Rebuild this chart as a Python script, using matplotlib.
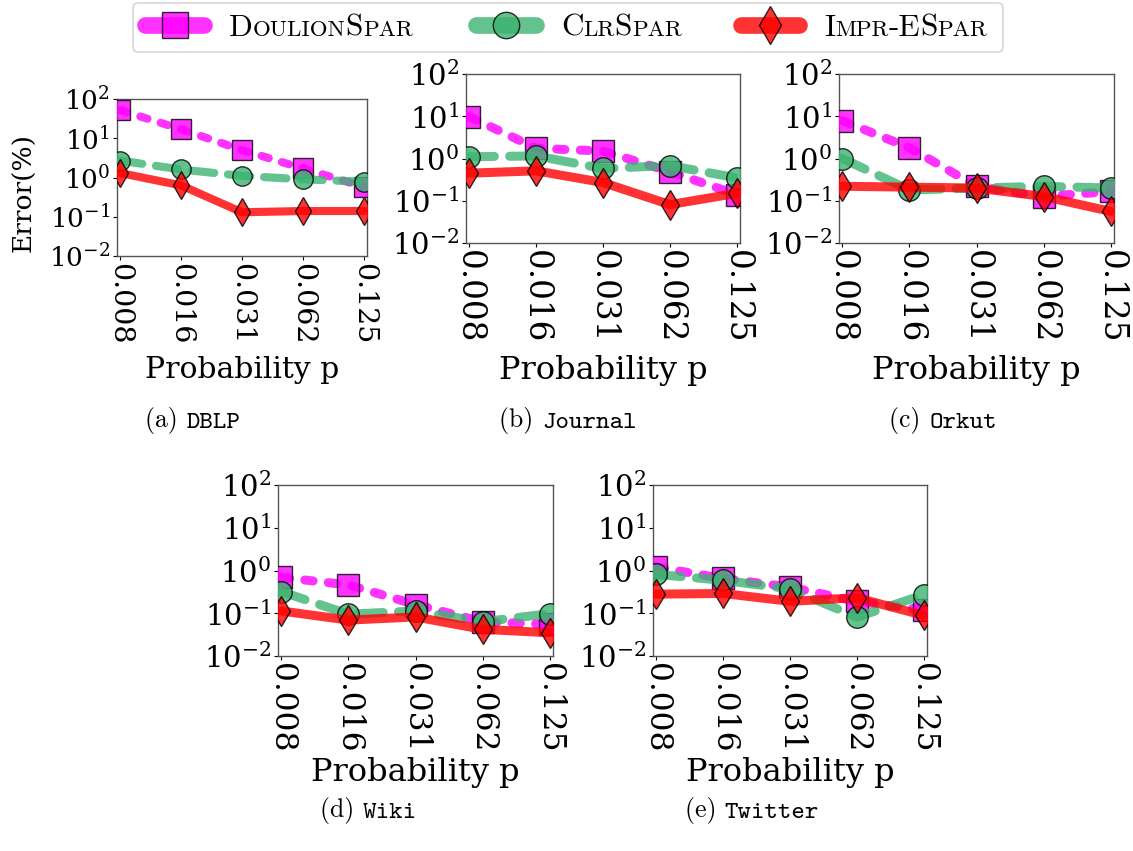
import matplotlib
matplotlib.use("Agg")
import matplotlib.pyplot as plt
from matplotlib.lines import Line2D
from matplotlib.patches import FancyBboxPatch
from matplotlib.offsetbox import AnchoredOffsetbox, HPacker, TextArea
import numpy as np

# ---------------- data ----------------
p_labels = ["0.008", "0.016", "0.031", "0.062", "0.125"]
methods = ["DoulionSpar", "ClrSpar", "Impr-ESpar"]

dblp_doulion = [52, 17, 5.0, 1.7, 0.58]
dblp_clr = [2.7, 1.6, 1.1, 0.9, 0.78]
dblp_impr = [1.3, 0.63, 0.13, 0.14, 0.14]

journal_doulion = [9.8, 1.75, 1.5, 0.49, 0.14]
journal_clr = [1.1, 1.15, 0.58, 0.68, 0.35]
journal_impr = [0.45, 0.51, 0.27, 0.081, 0.15]

orkut_doulion = [7.8, 1.8, 0.22, 0.126, 0.166]
orkut_clr = [1.0, 0.18, 0.2, 0.22, 0.2]
orkut_impr = [0.22, 0.21, 0.2, 0.126, 0.056]

wiki_doulion = [0.69, 0.46, 0.16, 0.063, 0.055]
wiki_clr = [0.32, 0.095, 0.113, 0.063, 0.098]
wiki_impr = [0.113, 0.069, 0.082, 0.042, 0.035]

twitter_doulion = [1.2, 0.65, 0.41, 0.19, 0.12]
twitter_clr = [0.81, 0.59, 0.37, 0.081, 0.27]
twitter_impr = [0.28, 0.29, 0.19, 0.23, 0.089]

datasets = ["DBLP", "Journal", "Orkut", "Wiki", "Twitter"]
panel_letters = ["a", "b", "c", "d", "e"]
series = [
    (dblp_doulion, dblp_clr, dblp_impr),
    (journal_doulion, journal_clr, journal_impr),
    (orkut_doulion, orkut_clr, orkut_impr),
    (wiki_doulion, wiki_clr, wiki_impr),
    (twitter_doulion, twitter_clr, twitter_impr),
]

# ---------------- style ----------------
plt.rcParams["font.family"] = ["DejaVu Serif"]
plt.rcParams["mathtext.fontset"] = "dejavuserif"
plt.rcParams["lines.scale_dashes"] = False

W, H = 1133, 851
fig = plt.figure(figsize=(W / 100, H / 100), dpi=100)

colors = ["#ff00ff", "#3cb371", "#ff0000"]
markers = ["s", "o", "d"]
dash_specs = [(6, 11), (18, 11), None]
ALPHA = 0.8

# axes rectangles in pixels: (left, top, right, bottom)
rects_px = [
    (117, 99, 367, 256),
    (466, 74, 740, 243),
    (839, 74, 1114, 243),
    (278, 485, 553, 656),
    (653, 485, 927, 656),
]
scales = [0.9, 1, 1, 1, 1]
captions_px = [(193, 421), (568, 421), (943, 421), (368, 811), (752, 811)]

x = np.arange(len(p_labels))
for i, (rect, sc) in enumerate(zip(rects_px, scales)):
    l, t, r, b = rect
    ax = fig.add_axes([l / W, 1 - b / H, (r - l) / W, (b - t) / H])
    for k in range(3):
        ln, = ax.plot(x, series[i][k], color=colors[k], lw=6.5 * sc, alpha=ALPHA,
                      marker=markers[k], markersize=15.5 * sc, markerfacecolor=colors[k],
                      markeredgecolor="black", markeredgewidth=1.0,
                      solid_capstyle="round", dash_capstyle="round", zorder=3 + k)
        if dash_specs[k] is not None:
            ln.set_dashes((dash_specs[k][0] * sc, dash_specs[k][1] * sc))
    ax.set_yscale("log")
    ax.set_ylim(1e-2, 1e2)
    ax.set_yticks([1e-2, 1e-1, 1e0, 1e1, 1e2])
    ax.minorticks_off()
    ax.set_xlim(-0.05, 4.05)
    ax.set_xticks(x)
    ax.set_xticklabels(p_labels, rotation=270)
    if i == 0:
        ytick_fs, xtick_fs, xlab_fs, lpad = 19, 20.5, 21.5, 8
    elif i < 3:
        ytick_fs, xtick_fs, xlab_fs, lpad = 21, 23.5, 23, 8
    else:
        ytick_fs, xtick_fs, xlab_fs, lpad = 21, 22.5, 23, 3
    ax.tick_params(axis="y", labelsize=ytick_fs, length=3, width=0.8, pad=2)
    ax.tick_params(axis="x", labelsize=xtick_fs, length=3, width=0.8, pad=2)
    ax.set_xlabel("Probability p", fontsize=xlab_fs, labelpad=lpad)
    for s in ax.spines.values():
        s.set_color("#555555")
        s.set_linewidth(1.0)
    if i == 0:
        ax.set_ylabel("Error(%)", fontsize=19)
        ax.yaxis.set_label_coords(-93 / (r - l), (b - 192) / (b - t),
                                  transform=ax.transAxes)
        ax.yaxis.label.set_va("center")
    # caption
    cx, cy = captions_px[i]
    cap = HPacker(children=[
        TextArea("(%s) " % panel_letters[i], textprops=dict(family="cmr10", fontsize=18.5)),
        TextArea(datasets[i], textprops=dict(family="cmtt10", fontsize=18.5)),
    ], sep=0, pad=0, align="baseline")
    fig.add_artist(AnchoredOffsetbox(loc="center", child=cap, pad=0, borderpad=0,
                                     frameon=False, bbox_to_anchor=(cx / 100, (H - cy) / 100),
                                     bbox_transform=fig.dpi_scale_trans))

# ---------------- legend (small caps emulated) ----------------
tr = fig.dpi_scale_trans
frame = FancyBboxPatch((133 / 100, (H - 52) / 100), (1003 - 133) / 100, 49 / 100,
                       boxstyle="round,pad=0,rounding_size=0.05", transform=tr,
                       facecolor="white", edgecolor="#d0d0d0", linewidth=1.0)
fig.add_artist(frame)

handles_px = [(137, 212), (468, 544), (733, 807)]
text_left_px = [229, 561, 824]
legend_parts = [
    [("D", True), ("OULION", False), ("S", True), ("PAR", False)],
    [("C", True), ("LR", False), ("S", True), ("PAR", False)],
    [("I", True), ("MPR", False), ("-E", True), ("S", True), ("PAR", False)],
]
ly = 25
for k in range(3):
    x0, x1 = handles_px[k]
    lwp = 12
    half = lwp * 100 / 72 / 2
    fig.add_artist(Line2D([(x0 + half) / 100, (x1 - half) / 100], [(H - ly) / 100] * 2,
                          transform=tr, color=colors[k], alpha=ALPHA, lw=lwp,
                          solid_capstyle="round"))
    fig.add_artist(Line2D([(x0 + x1) / 200], [(H - ly) / 100], transform=tr,
                          marker=markers[k], markersize=19, color=colors[k], alpha=ALPHA,
                          markeredgecolor="black", markeredgewidth=1.0, linestyle="none"))
    pieces = [TextArea(s, textprops=dict(family="cmr10", fontsize=(22.5 if big else 16.5)))
              for s, big in legend_parts[k]]
    hp = HPacker(children=pieces, sep=0, pad=0, align="baseline")
    fig.add_artist(AnchoredOffsetbox(loc="center left", child=hp, pad=0, borderpad=0,
                                     frameon=False,
                                     bbox_to_anchor=(text_left_px[k] / 100, (H - 28) / 100),
                                     bbox_transform=tr))

fig.savefig("out.png", dpi=100)
